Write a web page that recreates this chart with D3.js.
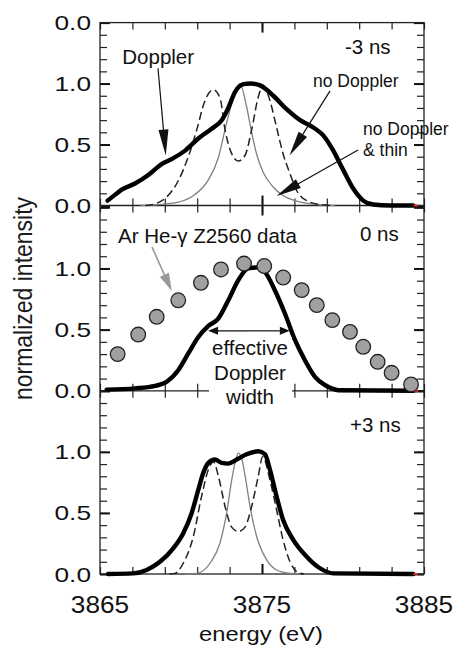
<!DOCTYPE html>
<html><head><meta charset="utf-8">
<script src="https://cdn.jsdelivr.net/npm/d3@7"></script>
<style>html,body{margin:0;padding:0;background:#fff}svg{display:block}</style>
</head><body>
<svg id="chart" width="456" height="645"></svg>
<script>
// ---------------- DATA ----------------
const energyDomain = [3865, 3885];
const energyTicks = [3865, 3867, 3869, 3871, 3873, 3875, 3877, 3879, 3881, 3883, 3885];
const energyMajorTick = [3875];
const energyTickLabels = [[3865, "3865"], [3875, "3875"], [3885, "3885"]];
const intensityTicks = [0, 0.1, 0.2, 0.3, 0.4, 0.5, 0.6, 0.7, 0.8, 0.9, 1.0, 1.1, 1.2, 1.3, 1.4, 1.5];
const intensityMajorTicks = [0, 0.5, 1.0, 1.5];
const topPanelTickLabels = [[0, "0.0"], [0.5, "0.5"], [1.0, "1.0"], [1.5, "0.0"]];
const panelTickLabels = [[0, "0.0"], [0.5, "0.5"], [1.0, "1.0"]];
const panelTimes = ["-3 ns", "0 ns", "+3 ns"];

// -3 ns
const dopplerM3 = [[3865.47,0.04],[3865.9,0.085],[3866.34,0.13],[3867.16,0.18],[3867.98,0.25],[3868.8,0.34],[3869.42,0.38],[3870.25,0.45],[3871.07,0.55],[3871.89,0.63],[3872.51,0.70],[3872.92,0.80],[3873.33,0.93],[3873.85,0.995],[3874.3,1.0],[3874.88,0.985],[3875.7,0.90],[3876.52,0.79],[3877.35,0.70],[3878.17,0.64],[3878.78,0.575],[3879.4,0.45],[3880.02,0.29],[3880.64,0.137],[3881.25,0.04],[3881.87,0.008],[3882.9,0],[3884.34,0]];
const noDopplerM3 = [[3867.8,0],[3868.4,0.014],[3869.12,0.07],[3869.84,0.205],[3870.45,0.40],[3870.97,0.62],[3871.48,0.86],[3871.99,0.95],[3872.41,0.88],[3872.72,0.62],[3873.13,0.425],[3873.54,0.365],[3873.95,0.41],[3874.36,0.62],[3874.77,0.89],[3875.08,0.985],[3875.49,0.86],[3875.9,0.64],[3876.3,0.425],[3876.73,0.26],[3877.14,0.123],[3877.76,0.04],[3878.58,0.008],[3879.3,0]];
const thinM3 = [[3867.5,0],[3868.8,0.01],[3869.83,0.027],[3870.86,0.09],[3871.69,0.21],[3872.3,0.39],[3872.82,0.68],[3873.33,0.92],[3873.64,1.0],[3874.05,0.81],[3874.36,0.60],[3874.67,0.42],[3875.08,0.27],[3875.7,0.15],[3876.3,0.082],[3877.14,0.036],[3878.37,0.008],[3879.5,0]];

// 0 ns
const doppler0 = [[3865.41,0.01],[3867.16,0.02],[3868.4,0.04],[3869.12,0.074],[3869.84,0.17],[3870.45,0.305],[3871.07,0.44],[3871.69,0.53],[3872.3,0.59],[3872.92,0.74],[3873.54,0.905],[3874.15,1.0],[3874.67,1.008],[3875.19,0.97],[3875.8,0.82],[3876.42,0.63],[3877.04,0.414],[3877.65,0.25],[3878.27,0.114],[3878.89,0.046],[3879.3,0.02],[3879.71,0.005],[3884.34,0]];
const dataEnergy = [3866.09,3867.36,3868.5,3869.83,3871.23,3872.47,3873.89,3875.14,3876.31,3877.45,3878.38,3879.34,3880.43,3881.25,3882.14,3883.0,3884.2];
const dataIntensity = [0.30,0.46,0.605,0.74,0.883,0.992,1.04,1.02,0.926,0.823,0.70,0.578,0.482,0.36,0.237,0.147,0.052];

// +3 ns
const dopplerP3 = [[3865.5,0],[3867.06,0.005],[3867.88,0.033],[3868.7,0.10],[3869.52,0.21],[3870.14,0.334],[3870.66,0.50],[3871.07,0.69],[3871.38,0.83],[3871.69,0.91],[3872.1,0.937],[3872.51,0.91],[3872.92,0.904],[3873.44,0.937],[3874.05,0.98],[3874.77,1.005],[3875.19,0.98],[3875.49,0.855],[3875.9,0.636],[3876.3,0.444],[3876.93,0.28],[3877.76,0.142],[3878.58,0.047],[3879.4,0.005],[3884.34,0]];
const noDopplerP3 = [[3869.3,0],[3869.63,0.005],[3870.14,0.088],[3870.76,0.307],[3871.27,0.636],[3871.69,0.855],[3872.0,0.92],[3872.31,0.80],[3872.72,0.553],[3873.13,0.384],[3873.54,0.348],[3873.95,0.384],[3874.36,0.553],[3874.77,0.80],[3875.04,0.96],[3875.49,0.77],[3875.9,0.526],[3876.3,0.28],[3876.73,0.10],[3877.14,0.02],[3877.6,0]];
const thinP3 = [[3870.3,0],[3870.97,0.005],[3871.79,0.088],[3872.4,0.252],[3872.82,0.5],[3873.13,0.77],[3873.4,0.945],[3873.54,0.99],[3873.75,0.945],[3874.0,0.77],[3874.26,0.553],[3874.67,0.307],[3875.29,0.115],[3875.9,0.033],[3876.73,0.005],[3877.2,0]];

const redTail = [[3884.35,0],[3884.62,0]];

// ---------------- LAYOUT ----------------
const FONT = "'Liberation Sans', Arial, Helvetica, sans-serif";
const svg = d3.select("#chart");
const x = d3.scaleLinear().domain(energyDomain).range([100, 424]);
const panels = [
  {top: 22.6, bottom: 205.5, yTop: 22.6},
  {top: 205.5, bottom: 390.8, yTop: 207.3},
  {top: 390.8, bottom: 574, yTop: 390.8}
];
panels.forEach(p => { p.y = d3.scaleLinear().domain([0, 1.5]).range([p.bottom, p.yTop]); });

const ink = "#111";

function txt(px, py, s, size, anchor, sx, fill) {
  const g = svg.append("g").attr("transform", `translate(${px},${py}) scale(${sx || 1},1)`);
  return g.append("text").attr("text-anchor", anchor || "start")
    .attr("font-family", FONT).attr("font-size", size).attr("fill", fill || ink).text(s);
}

function arrow(p, e1, v1, e2, v2, len, w, color, sw) {
  const x1 = x(e1), y1 = p.y(v1), x2 = x(e2), y2 = p.y(v2);
  const dx = x2 - x1, dy = y2 - y1, L = Math.hypot(dx, dy), ux = dx / L, uy = dy / L;
  const bx = x2 - ux * len, by = y2 - uy * len;
  svg.append("line").attr("x1", x1).attr("y1", y1).attr("x2", bx + ux * 1).attr("y2", by + uy * 1)
    .attr("stroke", color).attr("stroke-width", sw || 1.2);
  svg.append("path").attr("d", `M${x2},${y2}L${bx - uy * w / 2},${by + ux * w / 2}L${bx + uy * w / 2},${by - ux * w / 2}Z`)
    .attr("fill", color);
}

const lineGen = p => d3.line().x(d => x(d[0])).y(d => p.y(d[1])).curve(d3.curveMonotoneX);

// ---------------- AXES / FRAME ----------------
panels.forEach((p, i) => {
  const gB = svg.append("g").attr("transform", `translate(0,${p.bottom})`)
    .call(d3.axisBottom(x).tickValues(energyTicks).tickSize(-7).tickSizeOuter(0).tickFormat(""));
  const gBM = svg.append("g").attr("transform", `translate(0,${p.bottom})`)
    .call(d3.axisBottom(x).tickValues(energyMajorTick).tickSize(-10).tickSizeOuter(0).tickFormat(""));
  const gT = svg.append("g").attr("transform", `translate(0,${p.top})`)
    .call(d3.axisTop(x).tickValues(energyTicks).tickSize(-7).tickSizeOuter(0).tickFormat(""));
  const gTM = svg.append("g").attr("transform", `translate(0,${p.top})`)
    .call(d3.axisTop(x).tickValues(energyMajorTick).tickSize(-10).tickSizeOuter(0).tickFormat(""));
  const gL = svg.append("g").attr("transform", `translate(100,0)`)
    .call(d3.axisLeft(p.y).tickValues(intensityTicks).tickSize(-7).tickSizeOuter(0).tickFormat(""));
  const gLM = svg.append("g").attr("transform", `translate(100,0)`)
    .call(d3.axisLeft(p.y).tickValues(intensityMajorTicks).tickSize(-10).tickSizeOuter(0).tickFormat(""));
  const gR = svg.append("g").attr("transform", `translate(424,0)`)
    .call(d3.axisRight(p.y).tickValues(intensityTicks).tickSize(-7).tickSizeOuter(0).tickFormat(""));
  const gRM = svg.append("g").attr("transform", `translate(424,0)`)
    .call(d3.axisRight(p.y).tickValues(intensityMajorTicks).tickSize(-10).tickSizeOuter(0).tickFormat(""));
  [gB, gT, gL, gR].forEach(g => { g.select(".domain").remove(); g.selectAll("line").attr("stroke", "#222").attr("stroke-width", 1.2); });
  [gBM, gTM, gLM, gRM].forEach(g => { g.select(".domain").remove(); g.selectAll("line").attr("stroke", "#111").attr("stroke-width", 2); });
  [gL, gLM, gR, gRM].forEach(g => g.selectAll(".tick").filter(d => p.y(d) < p.top - 0.5).remove());
  const labels = i === 0 ? topPanelTickLabels : panelTickLabels;
  labels.forEach(([v, s]) => txt(91, p.y(v) + 7.5, s, 21, "end", 1.25));
});

svg.append("rect").attr("x", 100).attr("y", panels[0].top).attr("width", 324).attr("height", panels[2].bottom - panels[0].top)
  .attr("fill", "none").attr("stroke", "#222").attr("stroke-width", 1.3);
panels.slice(0, 2).forEach(p => svg.append("line").attr("x1", 100).attr("x2", 424).attr("y1", p.bottom).attr("y2", p.bottom)
  .attr("stroke", "#222").attr("stroke-width", 1.3));

energyTickLabels.forEach(([e, s]) => txt(x(e), 612.7, s, 23, "middle", 1.14));
txt(261, 640.5, "energy (eV)", 21, "middle", 1.13);
svg.append("g").attr("transform", "translate(32,298.5) rotate(-90) scale(1,1.1)")
  .append("text").attr("text-anchor", "middle").attr("font-family", FONT).attr("font-size", 23).attr("fill", "#1a1a1a")
  .text("normalized intensity");

// ---------------- CURVES ----------------
function thin(p, d) {
  svg.append("path").datum(d).attr("d", lineGen(p)).attr("fill", "none").attr("stroke", "#808080").attr("stroke-width", 1.3);
}
function dashed(p, d) {
  svg.append("path").datum(d).attr("d", lineGen(p)).attr("fill", "none").attr("stroke", "#222").attr("stroke-width", 1.5)
    .attr("stroke-dasharray", "8,4");
}
function thick(p, d) {
  svg.append("path").datum(d).attr("d", lineGen(p)).attr("fill", "none").attr("stroke", "#000").attr("stroke-width", 4.4)
    .attr("stroke-linejoin", "round").attr("stroke-linecap", "round");
}
function red(p) {
  svg.append("path").datum(redTail).attr("d", d3.line().x(d => x(d[0])).y(d => p.y(d[1]))).attr("stroke", "#e22").attr("stroke-width", 2);
}

thin(panels[0], thinM3);
dashed(panels[0], noDopplerM3);
thick(panels[0], dopplerM3);
red(panels[0]);

thick(panels[1], doppler0);
red(panels[1]);
svg.append("g").selectAll("circle").data(dataEnergy.map((e, k) => [e, dataIntensity[k]])).join("circle")
  .attr("cx", d => x(d[0])).attr("cy", d => panels[1].y(d[1])).attr("r", 7.3)
  .attr("fill", "#a0a0a0").attr("stroke", "#222").attr("stroke-width", 1.3);

thin(panels[2], thinP3);
dashed(panels[2], noDopplerP3);
thick(panels[2], dopplerP3);
red(panels[2]);

// ---------------- ANNOTATIONS ----------------
svg.append("rect").attr("x", x(3871.73)).attr("y", 337).attr("width", x(3876.85) - x(3871.73)).attr("height", 69)
  .attr("fill", "#fff");

txt(345, 54, panelTimes[0], 20.5);
txt(360, 240.7, panelTimes[1], 20.5);
txt(350, 431.7, panelTimes[2], 20.5);

txt(122.3, 64.3, "Doppler", 20.5);
txt(313, 87.3, "no Doppler", 17.5);
txt(363, 135, "no Doppler", 17.5);
txt(363, 156, "& thin", 17.5);
txt(118, 243.3, "Ar He-\u03b3 Z2560 data", 20.5);
txt(250, 355, "effective", 20.5, "middle");
txt(250, 380, "Doppler", 20.5, "middle");
txt(250, 403.5, "width", 20.5, "middle");

arrow(panels[0], 3868.58, 1.126, 3869.06, 0.41, 26, 10, "#111", 1.2);
arrow(panels[0], 3879.2, 0.94, 3876.7, 0.41, 25, 10, "#111", 1.2);
arrow(panels[0], 3880.93, 0.455, 3875.9, 0.078, 25, 10, "#111", 1.2);
arrow(panels[1], 3868.21, 1.175, 3869.43, 0.815, 18, 10, "#999", 1.6);
arrow(panels[1], 3874.2, 0.49, 3871.67, 0.49, 10, 8, "#111", 1.2);
arrow(panels[1], 3874.2, 0.49, 3876.72, 0.49, 10, 8, "#111", 1.2);
</script>
</body></html>
